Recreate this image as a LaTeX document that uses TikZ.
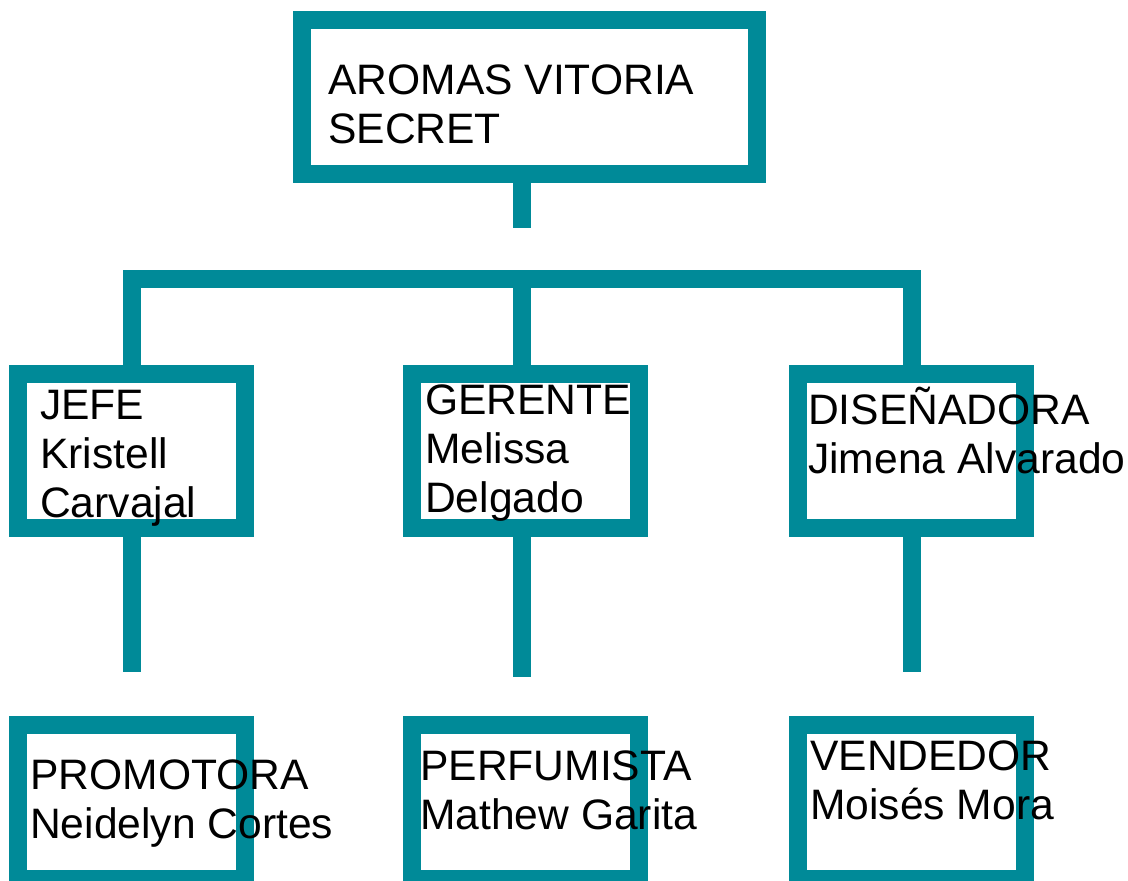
\documentclass[tikz,border=0pt]{standalone}
\usepackage{fontspec}
\setmainfont{Liberation Sans}
\usetikzlibrary{positioning}
\definecolor{orgteal}{RGB}{0,138,152}

\begin{document}
\begin{tikzpicture}[
    % styles
    x=1pt, y=-1pt,
    unit/.style={draw=orgteal, line width=18pt, fill=white, inner sep=0pt,
        minimum width=227pt, minimum height=154pt},
    top unit/.style={unit, minimum width=455pt},
    link/.style={draw=orgteal, line width=18pt},
    boxtext/.style={anchor=base west, inner sep=0pt, align=left,
        font=\fontsize{42.6}{49}\selectfont}
]

    % page
    \useasboundingbox (0,0) rectangle (1128,881);
    \clip (0,0) rectangle (1128,881);

    % --- 1. boxes ---
    \node[top unit] (top) at (529.5,97) {};

    \foreach \name / \x in {jefe/131.5, ger/525, dis/911.5}
        \node[unit] (\name) at (\x,451) {};

    \foreach \name / \x in {promo/131.5, perf/525, vend/911.5}
        \node[unit] (\name) at (\x,802) {};

    % --- 2. connectors ---
    \coordinate (bar-m) at (522,279);
    \coordinate (top-end) at (522,228);
    \coordinate (jefe-end) at (132,672);
    \coordinate (ger-end) at (522,677);
    \coordinate (dis-end) at (912,672);

    \draw[link] (top.south -| bar-m) -- (top-end);
    \draw[link] (jefe.north -| jefe-end) |- (bar-m) -| (dis.north -| dis-end);
    \draw[link] (bar-m) -- (bar-m |- ger.north);

    \foreach \name in {jefe, dis}
        \draw[link] (\name.south -| \name-end) -- (\name-end);
    \draw[link] (ger.south -| ger-end) -- (ger-end);

    % --- 3. texts (base = last line) ---
    \node[boxtext] (t-top) at (328,143) {AROMAS VITORIA\\SECRET};
    \node[boxtext] (t-jefe) at (40,517) {JEFE\\Kristell\\Carvajal};
    \node[boxtext] (t-ger) at (425,512) {GERENTE\\Melissa\\Delgado};
    \node[boxtext] (t-dis) at (808,473) {DISEÑADORA\\Jimena Alvarado};
    \node[boxtext] (t-promo) at (30,838) {PROMOTORA\\Neidelyn Cortes};
    \node[boxtext] (t-perf) at (420,829) {PERFUMISTA\\Mathew Garita};
    \node[boxtext] (t-vend) at (810,819) {VENDEDOR\\Moisés Mora};

\end{tikzpicture}
\end{document}
